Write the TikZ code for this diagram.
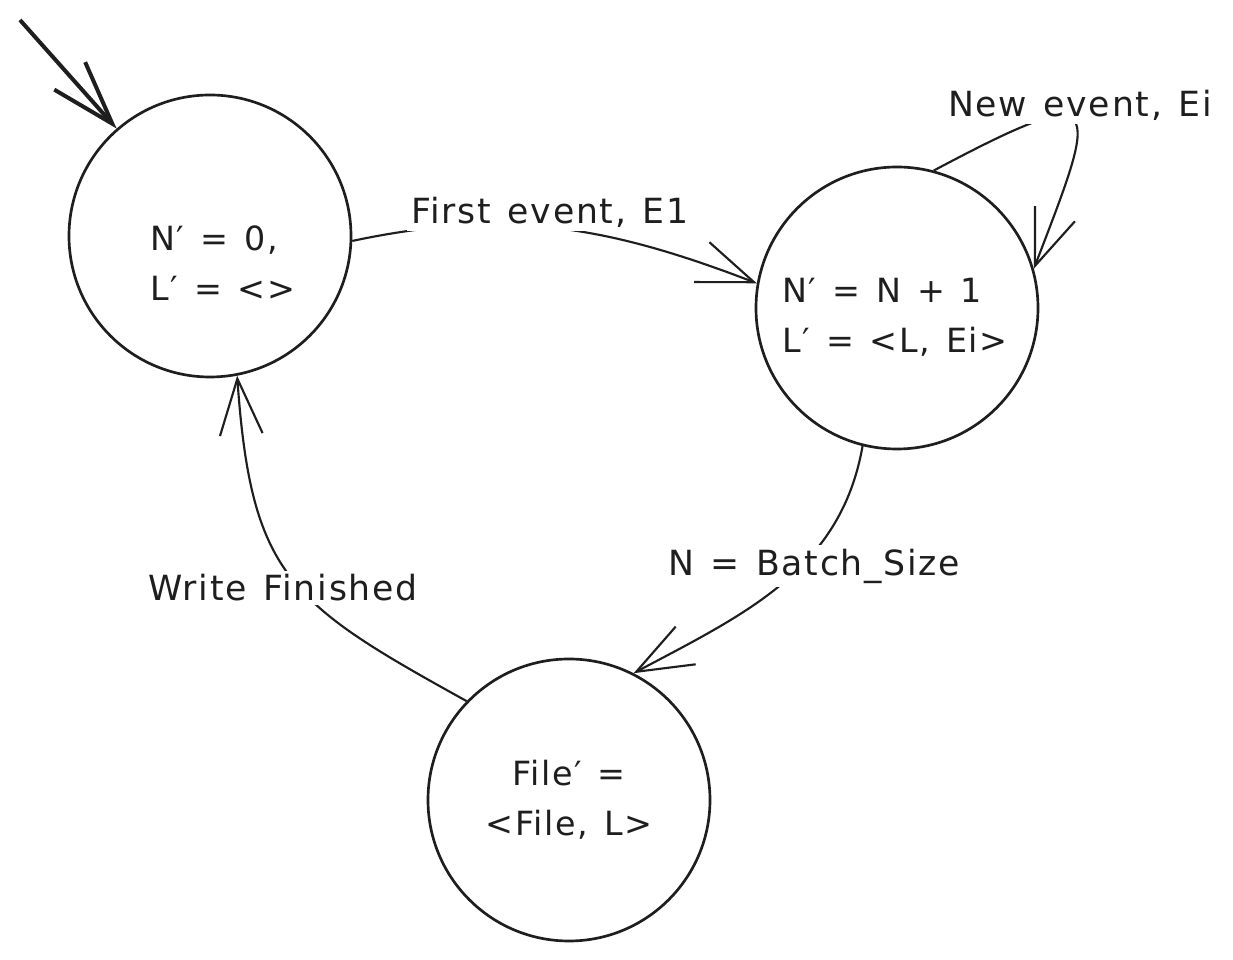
\documentclass[tikz,border=0pt]{standalone}
\usepackage{fontspec}
\setmainfont{DejaVu Sans}[LetterSpace=5, WordSpace=1.3]
\usetikzlibrary{arrows.meta}
\definecolor{ink}{HTML}{1E1E1E}
\begin{document}
\begin{tikzpicture}[x=0.75pt,y=0.75pt]
\tikzset{
  state/.style={circle, draw=ink, line width=2pt, minimum size=211.5pt, inner sep=0pt},
  statetext/.style={font=\fontsize{25}{37.5}\selectfont, text=ink, inner sep=0pt},
  lbl/.style={font=\fontsize{26}{30}\selectfont, text=ink, fill=white, inner sep=3pt},
  edge/.style={draw=ink, line width=1.6pt, -{Straight Barb[length=42pt,width=32pt,line width=1.6pt]}},
  initedge/.style={draw=ink, line width=3pt, -{Straight Barb[length=48pt,width=31pt,line width=3pt]}},
}
\fill[white] (0,0) rectangle (1233,960);
\useasboundingbox (0,0) rectangle (1233,960);

% states
\node[state] (c1) at (210,724) {};
\node[state] (c2) at (897,652) {};
\node[state] (c3) at (569,160) {};

\node[statetext, anchor=west, align=left] (t1) at (150,697) {N′ = 0,\\L′ = <>};
\node[statetext, anchor=west, align=left] (t2) at (782,643) {N′ = N + 1\\L′ = <L, Ei>};
\node[statetext, align=center] (t3) at (569,160) {File′ =\\<File, L>};

% initial arrow
\coordinate (start) at (20,940);
\draw[initedge] (start) -- (c1.131);

% transitions
\draw[edge] (c1.-2) to[out=12,in=159] (c2.170);
\draw[edge] (c2.75) .. controls +(28:200) and +(69:180) .. (c2.16);
\draw[edge] (c2.256) to[out=-100,in=28] (c3.63);
\draw[edge] (c3.136) to[out=151,in=-86,looseness=1.3] (c1.-79);

% labels
\node[lbl] (l1) at (550,748) {First event, E1};
\node[lbl] (l2) at (1080,855) {New event, Ei};
\node[lbl] (l3) at (814,394) {N = Batch\_Size};
\node[lbl] (l4) at (283,372) {Write Finished};
\end{tikzpicture}
\end{document}
